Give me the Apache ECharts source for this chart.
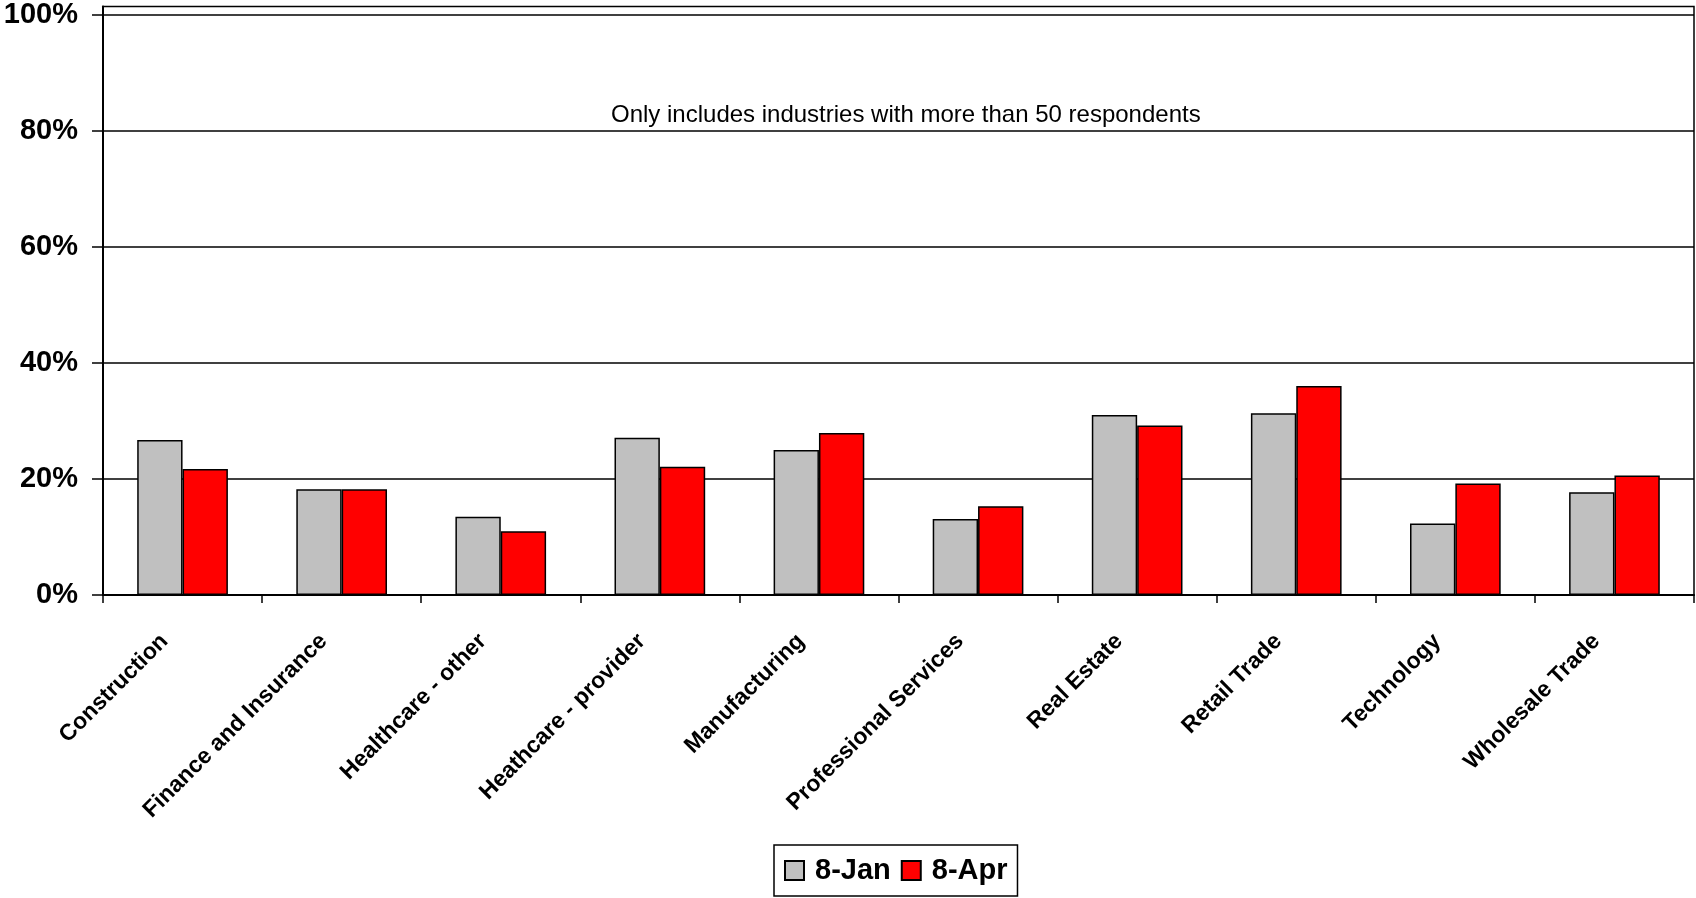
<!DOCTYPE html>
<html>
<head>
<meta charset="utf-8">
<script src="https://cdn.jsdelivr.net/npm/echarts@6/dist/echarts.min.js"></script>
<style>
html,body{margin:0;padding:0;background:#fff;}
#chart{width:1696px;height:898px;}
</style>
</head>
<body>
<div id="chart"></div>
<script>
const categories = ['Construction','Finance and Insurance','Healthcare - other','Heathcare - provider','Manufacturing','Professional Services','Real Estate','Retail Trade','Technology','Wholesale Trade'];
const seriesNames = ['8-Jan','8-Apr'];
const jan = [26.7,18.2,13.5,27.1,25.0,13.1,31.0,31.3,12.3,17.7];
const apr = [21.7,18.2,11.0,22.1,27.9,15.3,29.2,36.0,19.2,20.6];
const yTicks = [0,20,40,60,80,100];
const note = 'Only includes industries with more than 50 respondents';

const FONT = '"Liberation Sans", Arial, sans-serif';
const chart = echarts.init(document.getElementById('chart'), null, {renderer:'canvas'});
chart.setOption({
  animation:false,
  backgroundColor:'#fff',
  textStyle:{fontFamily:FONT},
  grid:{left:103,right:2,top:5,bottom:303,show:true,borderColor:'#000',borderWidth:1.5,backgroundColor:'transparent'},
  legend:{
    data:seriesNames,left:774,top:845,orient:'horizontal',
    padding:[11,10,11,10],itemWidth:19,itemHeight:19,itemGap:10,
    borderColor:'#000',borderWidth:1.5,backgroundColor:'#fff',borderRadius:0,
    textStyle:{fontSize:29,fontWeight:'bold',color:'#000',fontFamily:FONT,padding:[0,0,0,6]},
    icon:'rect'
  },
  graphic:[{
    type:'text',left:611,top:103,
    style:{text:note,fontSize:24,fontFamily:FONT,fill:'#000'}
  }],
  xAxis:{
    type:'category',data:categories,
    axisLine:{lineStyle:{color:'#000',width:2}},
    axisTick:{show:true,length:8,lineStyle:{color:'#000',width:1.5}},
    axisLabel:{rotate:45,interval:0,margin:41,verticalAlign:'bottom',padding:[0,14,0,0],fontSize:23,fontWeight:'bold',color:'#000',fontFamily:FONT}
  },
  yAxis:{
    type:'value',min:0,max:101.37,interval:20,
    axisLine:{show:true,lineStyle:{color:'#000',width:2}},
    axisTick:{show:true,length:11,customValues:yTicks,lineStyle:{color:'#000',width:1.5}},
    axisLabel:{customValues:yTicks,margin:25,fontSize:29,fontWeight:'bold',color:'#000',fontFamily:FONT,
      formatter:function(v){return (Math.abs(v%20)<1e-6)?(v+'%'):'';}},
    splitLine:{show:true,lineStyle:{color:'#000',width:1.5}}
  },
  series:[
    {name:seriesNames[0],type:'bar',data:jan,barGap:'0%',barCategoryGap:'43%',
     itemStyle:{color:'#C0C0C0',borderColor:'#000',borderWidth:1.5}},
    {name:seriesNames[1],type:'bar',data:apr,barGap:'0%',barCategoryGap:'43%',
     itemStyle:{color:'#FF0000',borderColor:'#000',borderWidth:1.5}}
  ]
});
</script>
</body>
</html>
